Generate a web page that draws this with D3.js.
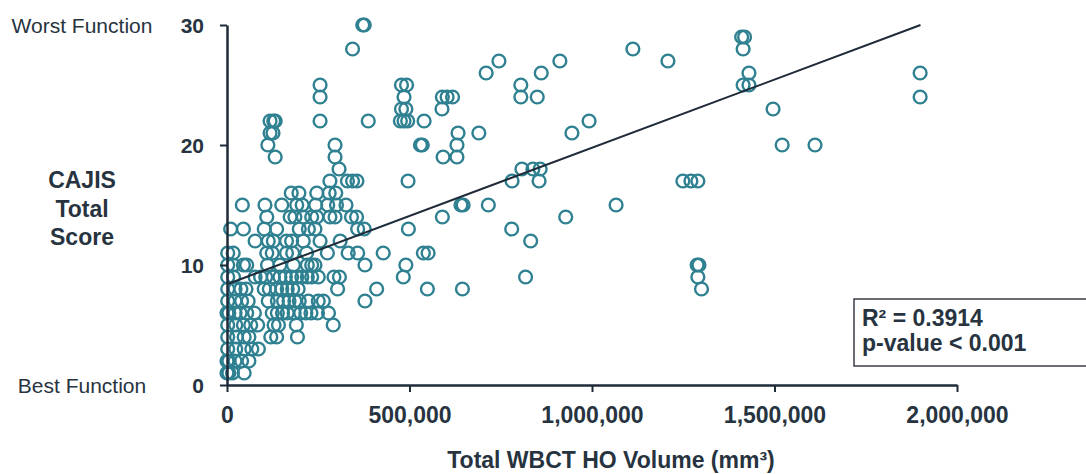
<!DOCTYPE html>
<html>
<head>
<meta charset="utf-8">
<script src="https://cdn.jsdelivr.net/npm/d3@7.9.0/dist/d3.min.js"></script>
<style>
  html, body { margin: 0; padding: 0; background: #fff; }
  svg { display: block; font-family: "Liberation Sans", Arial, sans-serif; }
</style>
</head>
<body>
<svg id="chart" width="1086" height="474"></svg>
<script>
// score level -> HO volumes (in thousands of mm3) of the patients at that level
const scoreRows = [30, 29, 28, 27, 26, 25, 24, 23, 22, 21, 20, 19, 18, 17, 16, 15,
  14, 13, 12, 11, 10, 9, 8, 7, 6, 5, 4, 3, 2, 1];
const volumeRowsK = [
  [372, 376],
  [1410, 1418],
  [344, 1112, 1414],
  [745, 912, 1208],
  [710, 861, 1430, 1899],
  [255, 478, 492, 805, 1414, 1430],
  [255, 485, 590, 603, 618, 805, 850, 1899],
  [478, 490, 589, 1496],
  [118, 128, 132, 255, 387, 475, 485, 495, 540, 992],
  [118, 126, 633, 690, 945],
  [112, 296, 530, 535, 630, 1521, 1611],
  [132, 296, 592, 630],
  [307, 808, 838, 858],
  [282, 330, 344, 356, 496, 781, 855, 1249, 1271, 1290],
  [176, 197, 246, 280, 298],
  [42, 104, 150, 191, 206, 243, 276, 300, 326, 641, 647, 716, 1066],
  [109, 173, 186, 209, 232, 246, 282, 296, 341, 355, 590, 928],
  [10, 45, 102, 136, 198, 223, 241, 358, 376, 497, 780],
  [77, 113, 127, 163, 177, 209, 255, 310, 832],
  [2, 17, 109, 124, 163, 180, 218, 275, 332, 358, 428, 538, 551],
  [2, 17, 45, 54, 111, 145, 182, 220, 232, 241, 378, 490, 1288, 1293],
  [2, 18, 77, 92, 106, 127, 145, 160, 177, 191, 205, 220, 232, 250, 293, 308, 483, 818, 1290],
  [2, 22, 38, 52, 102, 116, 136, 150, 165, 180, 195, 303, 410, 549, 645, 1300],
  [2, 22, 40, 58, 113, 138, 155, 170, 186, 198, 223, 250, 264, 378],
  [0, 5, 22, 36, 54, 75, 124, 138, 152, 165, 184, 202, 216, 230, 248, 278],
  [2, 24, 45, 65, 84, 129, 141, 190, 291],
  [2, 26, 47, 60, 120, 136, 193],
  [2, 24, 47, 68, 86],
  [0, 5, 22, 40, 60],
  [0, 5, 15, 47]
];

const xTicks = [0, 500000, 1000000, 1500000, 2000000];
const yTicks = [0, 10, 20, 30];
// fitted line as printed on the figure
const trendIntercept = 8.4;
const trendSlopePerMillion = 11.37;
const trendEnd = 1900000;
const statLines = ['R\u00b2 = 0.3914', 'p-value < 0.001'];
const yTitleLines = ['CAJIS', 'Total', 'Score'];

const teal = '#2f8191';
const ink = '#1f2b38';
const textInk = '#27343f';

const points = [];
scoreRows.forEach((s, i) => {
  volumeRowsK[i].forEach(v => points.push({ x: v * 1000, y: s }));
});

const svg = d3.select('#chart');
const x = d3.scaleLinear().domain([0, 2000000]).range([227, 957]);
const y = d3.scaleLinear().domain([0, 30]).range([385, 25]);

// points
svg.append('g')
  .selectAll('circle')
  .data(points)
  .join('circle')
  .attr('cx', d => x(d.x))
  .attr('cy', d => y(d.y))
  .attr('r', 6.4)
  .attr('fill', 'none')
  .attr('stroke', teal)
  .attr('stroke-width', 2.4);

// trend line
svg.append('line')
  .attr('x1', x(0))
  .attr('y1', y(trendIntercept))
  .attr('x2', x(trendEnd))
  .attr('y2', y(trendIntercept + trendSlopePerMillion * trendEnd / 1e6))
  .attr('stroke', ink)
  .attr('stroke-width', 2);

// axes
const xAxis = svg.append('g')
  .attr('transform', `translate(0,${y(0)})`)
  .call(d3.axisBottom(x).tickValues(xTicks).tickFormat(d3.format(',')).tickSize(7).tickSizeOuter(0));
const yAxis = svg.append('g')
  .attr('transform', `translate(${x(0)},0)`)
  .call(d3.axisLeft(y).tickValues(yTicks).tickSize(7).tickSizeOuter(0));

[xAxis, yAxis].forEach(g => {
  g.select('.domain').attr('stroke', ink).attr('stroke-width', 2.5);
  g.selectAll('.tick line').attr('stroke', ink).attr('stroke-width', 2);
  g.selectAll('.tick text')
    .attr('fill', textInk)
    .attr('font-family', '"Liberation Sans", Arial, sans-serif')
    .attr('font-weight', 'bold');
});
xAxis.selectAll('.tick text').attr('font-size', 23).attr('y', 0).attr('dy', 0)
  .attr('transform', 'translate(0,38)');
yAxis.selectAll('.tick text').attr('font-size', 21).attr('x', -23).attr('dy', '0.36em');

// axis titles
svg.append('text')
  .attr('x', 611).attr('y', 468)
  .attr('text-anchor', 'middle')
  .attr('font-size', 23).attr('font-weight', 'bold')
  .attr('fill', textInk)
  .text('Total WBCT HO Volume (mm\u00b3)');

svg.append('g')
  .selectAll('text')
  .data(yTitleLines)
  .join('text')
  .attr('x', 82)
  .attr('y', (d, i) => 180 + i * 28.5)
  .attr('dy', '0.36em')
  .attr('text-anchor', 'middle')
  .attr('font-size', 23).attr('font-weight', 'bold')
  .attr('fill', textInk)
  .text(d => d);

svg.append('text')
  .attr('x', 82).attr('y', y(30)).attr('dy', '0.36em')
  .attr('text-anchor', 'middle').attr('font-size', 21)
  .attr('fill', textInk).text('Worst Function');
svg.append('text')
  .attr('x', 82).attr('y', y(0)).attr('dy', '0.36em')
  .attr('text-anchor', 'middle').attr('font-size', 21)
  .attr('fill', textInk).text('Best Function');

// stats box
svg.append('rect')
  .attr('x', 854).attr('y', 299)
  .attr('width', 245).attr('height', 67)
  .attr('fill', '#fff')
  .attr('stroke', '#3a3f45').attr('stroke-width', 1.5);
svg.append('g')
  .selectAll('text')
  .data(statLines)
  .join('text')
  .attr('x', 862)
  .attr('y', (d, i) => 326 + i * 25)
  .attr('font-size', 23).attr('font-weight', 'bold')
  .attr('fill', textInk)
  .text(d => d);
</script>
</body>
</html>
